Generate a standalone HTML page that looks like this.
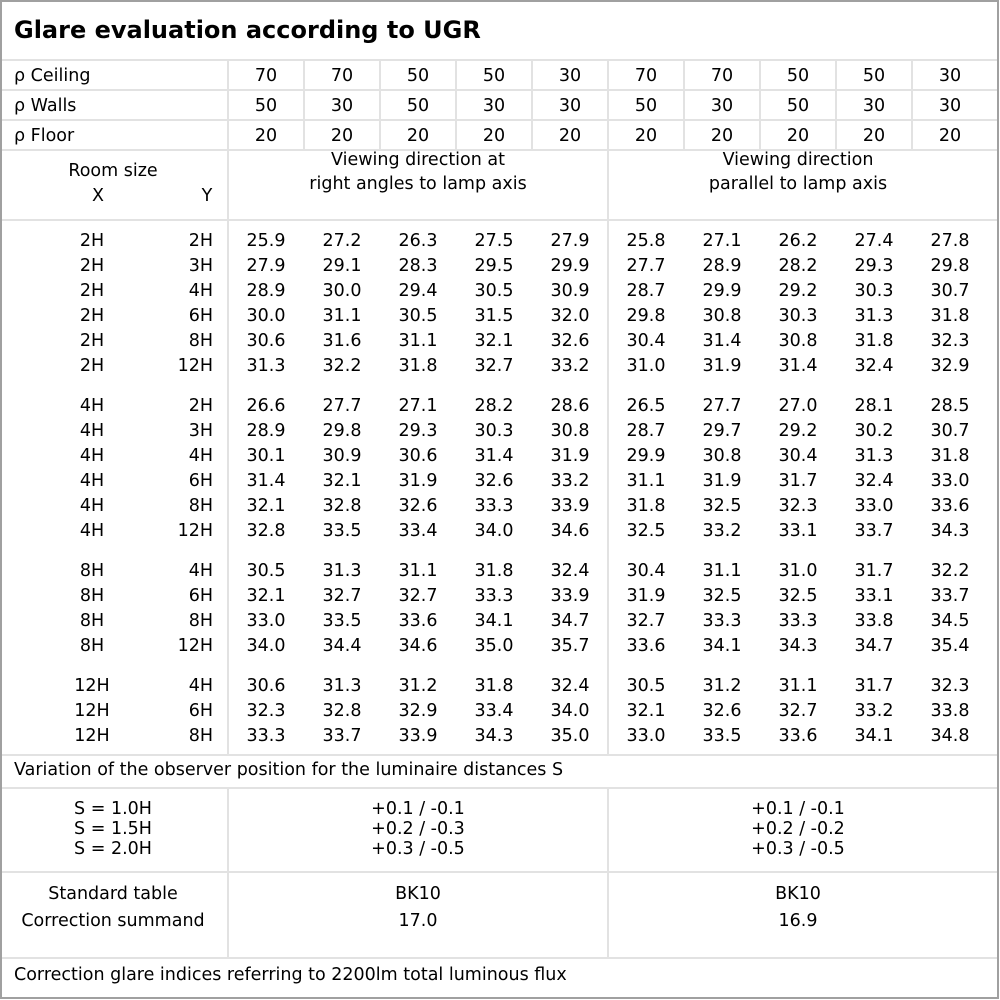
<!DOCTYPE html>
<html><head><meta charset="utf-8"><style>
html,body{margin:0;padding:0;background:#fff}
svg{display:block}
text{font-family:"DejaVu Sans","Liberation Sans",sans-serif;font-size:17.5px;fill:#000}
.c{text-anchor:middle}.e{text-anchor:end}
</style></head><body>
<svg width="1000" height="1000" viewBox="0 0 1000 1000">
<rect x="0" y="0" width="1000" height="1000" fill="#fff"/>
<g stroke="#e2e2e2" stroke-width="2" fill="none">
<line x1="1" y1="60" x2="998" y2="60"/>
<line x1="1" y1="90" x2="998" y2="90"/>
<line x1="1" y1="120" x2="998" y2="120"/>
<line x1="1" y1="150" x2="998" y2="150"/>
<line x1="1" y1="220" x2="998" y2="220"/>
<line x1="1" y1="755" x2="998" y2="755"/>
<line x1="1" y1="788" x2="998" y2="788"/>
<line x1="1" y1="872" x2="998" y2="872"/>
<line x1="1" y1="958" x2="998" y2="958"/>
<line x1="228" y1="60" x2="228" y2="755"/>
<line x1="228" y1="788" x2="228" y2="958"/>
<line x1="608" y1="150" x2="608" y2="755"/>
<line x1="608" y1="788" x2="608" y2="958"/>
<line x1="304" y1="60" x2="304" y2="150"/>
<line x1="380" y1="60" x2="380" y2="150"/>
<line x1="456" y1="60" x2="456" y2="150"/>
<line x1="532" y1="60" x2="532" y2="150"/>
<line x1="608" y1="60" x2="608" y2="150"/>
<line x1="684" y1="60" x2="684" y2="150"/>
<line x1="760" y1="60" x2="760" y2="150"/>
<line x1="836" y1="60" x2="836" y2="150"/>
<line x1="912" y1="60" x2="912" y2="150"/>
</g>
<rect x="1" y="1" width="997" height="997" fill="none" stroke="#a0a0a0" stroke-width="2"/>
<text x="14" y="38" style="font-size:24px;font-weight:bold">Glare evaluation according to UGR</text>
<text x="14" y="81">ρ Ceiling</text>
<text x="14" y="111">ρ Walls</text>
<text x="14" y="141">ρ Floor</text>
<g class="c">
<text class="c" x="266" y="81">70</text><text class="c" x="342" y="81">70</text><text class="c" x="418" y="81">50</text><text class="c" x="494" y="81">50</text><text class="c" x="570" y="81">30</text><text class="c" x="646" y="81">70</text><text class="c" x="722" y="81">70</text><text class="c" x="798" y="81">50</text><text class="c" x="874" y="81">50</text><text class="c" x="950" y="81">30</text>
<text class="c" x="266" y="111">50</text><text class="c" x="342" y="111">30</text><text class="c" x="418" y="111">50</text><text class="c" x="494" y="111">30</text><text class="c" x="570" y="111">30</text><text class="c" x="646" y="111">50</text><text class="c" x="722" y="111">30</text><text class="c" x="798" y="111">50</text><text class="c" x="874" y="111">30</text><text class="c" x="950" y="111">30</text>
<text class="c" x="266" y="141">20</text><text class="c" x="342" y="141">20</text><text class="c" x="418" y="141">20</text><text class="c" x="494" y="141">20</text><text class="c" x="570" y="141">20</text><text class="c" x="646" y="141">20</text><text class="c" x="722" y="141">20</text><text class="c" x="798" y="141">20</text><text class="c" x="874" y="141">20</text><text class="c" x="950" y="141">20</text>
</g>
<text class="c" x="113" y="176">Room size</text>
<text class="c" x="98" y="201">X</text>
<text class="c" x="207" y="201">Y</text>
<text class="c" x="418" y="165">Viewing direction at</text>
<text class="c" x="418" y="189">right angles to lamp axis</text>
<text class="c" x="798" y="165">Viewing direction</text>
<text class="c" x="798" y="189">parallel to lamp axis</text>

<g id="rows">
<!-- row helper: y baseline -->
<text class="c" x="92" y="246">2H</text><text class="e" x="213" y="246">2H</text>
<text class="c" x="266" y="246">25.9</text><text class="c" x="342" y="246">27.2</text><text class="c" x="418" y="246">26.3</text><text class="c" x="494" y="246">27.5</text><text class="c" x="570" y="246">27.9</text><text class="c" x="646" y="246">25.8</text><text class="c" x="722" y="246">27.1</text><text class="c" x="798" y="246">26.2</text><text class="c" x="874" y="246">27.4</text><text class="c" x="950" y="246">27.8</text>
<text class="c" x="92" y="271">2H</text><text class="e" x="213" y="271">3H</text>
<text class="c" x="266" y="271">27.9</text><text class="c" x="342" y="271">29.1</text><text class="c" x="418" y="271">28.3</text><text class="c" x="494" y="271">29.5</text><text class="c" x="570" y="271">29.9</text><text class="c" x="646" y="271">27.7</text><text class="c" x="722" y="271">28.9</text><text class="c" x="798" y="271">28.2</text><text class="c" x="874" y="271">29.3</text><text class="c" x="950" y="271">29.8</text>
<text class="c" x="92" y="296">2H</text><text class="e" x="213" y="296">4H</text>
<text class="c" x="266" y="296">28.9</text><text class="c" x="342" y="296">30.0</text><text class="c" x="418" y="296">29.4</text><text class="c" x="494" y="296">30.5</text><text class="c" x="570" y="296">30.9</text><text class="c" x="646" y="296">28.7</text><text class="c" x="722" y="296">29.9</text><text class="c" x="798" y="296">29.2</text><text class="c" x="874" y="296">30.3</text><text class="c" x="950" y="296">30.7</text>
<text class="c" x="92" y="321">2H</text><text class="e" x="213" y="321">6H</text>
<text class="c" x="266" y="321">30.0</text><text class="c" x="342" y="321">31.1</text><text class="c" x="418" y="321">30.5</text><text class="c" x="494" y="321">31.5</text><text class="c" x="570" y="321">32.0</text><text class="c" x="646" y="321">29.8</text><text class="c" x="722" y="321">30.8</text><text class="c" x="798" y="321">30.3</text><text class="c" x="874" y="321">31.3</text><text class="c" x="950" y="321">31.8</text>
<text class="c" x="92" y="346">2H</text><text class="e" x="213" y="346">8H</text>
<text class="c" x="266" y="346">30.6</text><text class="c" x="342" y="346">31.6</text><text class="c" x="418" y="346">31.1</text><text class="c" x="494" y="346">32.1</text><text class="c" x="570" y="346">32.6</text><text class="c" x="646" y="346">30.4</text><text class="c" x="722" y="346">31.4</text><text class="c" x="798" y="346">30.8</text><text class="c" x="874" y="346">31.8</text><text class="c" x="950" y="346">32.3</text>
<text class="c" x="92" y="371">2H</text><text class="e" x="213" y="371">12H</text>
<text class="c" x="266" y="371">31.3</text><text class="c" x="342" y="371">32.2</text><text class="c" x="418" y="371">31.8</text><text class="c" x="494" y="371">32.7</text><text class="c" x="570" y="371">33.2</text><text class="c" x="646" y="371">31.0</text><text class="c" x="722" y="371">31.9</text><text class="c" x="798" y="371">31.4</text><text class="c" x="874" y="371">32.4</text><text class="c" x="950" y="371">32.9</text>

<text class="c" x="92" y="411">4H</text><text class="e" x="213" y="411">2H</text>
<text class="c" x="266" y="411">26.6</text><text class="c" x="342" y="411">27.7</text><text class="c" x="418" y="411">27.1</text><text class="c" x="494" y="411">28.2</text><text class="c" x="570" y="411">28.6</text><text class="c" x="646" y="411">26.5</text><text class="c" x="722" y="411">27.7</text><text class="c" x="798" y="411">27.0</text><text class="c" x="874" y="411">28.1</text><text class="c" x="950" y="411">28.5</text>
<text class="c" x="92" y="436">4H</text><text class="e" x="213" y="436">3H</text>
<text class="c" x="266" y="436">28.9</text><text class="c" x="342" y="436">29.8</text><text class="c" x="418" y="436">29.3</text><text class="c" x="494" y="436">30.3</text><text class="c" x="570" y="436">30.8</text><text class="c" x="646" y="436">28.7</text><text class="c" x="722" y="436">29.7</text><text class="c" x="798" y="436">29.2</text><text class="c" x="874" y="436">30.2</text><text class="c" x="950" y="436">30.7</text>
<text class="c" x="92" y="461">4H</text><text class="e" x="213" y="461">4H</text>
<text class="c" x="266" y="461">30.1</text><text class="c" x="342" y="461">30.9</text><text class="c" x="418" y="461">30.6</text><text class="c" x="494" y="461">31.4</text><text class="c" x="570" y="461">31.9</text><text class="c" x="646" y="461">29.9</text><text class="c" x="722" y="461">30.8</text><text class="c" x="798" y="461">30.4</text><text class="c" x="874" y="461">31.3</text><text class="c" x="950" y="461">31.8</text>
<text class="c" x="92" y="486">4H</text><text class="e" x="213" y="486">6H</text>
<text class="c" x="266" y="486">31.4</text><text class="c" x="342" y="486">32.1</text><text class="c" x="418" y="486">31.9</text><text class="c" x="494" y="486">32.6</text><text class="c" x="570" y="486">33.2</text><text class="c" x="646" y="486">31.1</text><text class="c" x="722" y="486">31.9</text><text class="c" x="798" y="486">31.7</text><text class="c" x="874" y="486">32.4</text><text class="c" x="950" y="486">33.0</text>
<text class="c" x="92" y="511">4H</text><text class="e" x="213" y="511">8H</text>
<text class="c" x="266" y="511">32.1</text><text class="c" x="342" y="511">32.8</text><text class="c" x="418" y="511">32.6</text><text class="c" x="494" y="511">33.3</text><text class="c" x="570" y="511">33.9</text><text class="c" x="646" y="511">31.8</text><text class="c" x="722" y="511">32.5</text><text class="c" x="798" y="511">32.3</text><text class="c" x="874" y="511">33.0</text><text class="c" x="950" y="511">33.6</text>
<text class="c" x="92" y="536">4H</text><text class="e" x="213" y="536">12H</text>
<text class="c" x="266" y="536">32.8</text><text class="c" x="342" y="536">33.5</text><text class="c" x="418" y="536">33.4</text><text class="c" x="494" y="536">34.0</text><text class="c" x="570" y="536">34.6</text><text class="c" x="646" y="536">32.5</text><text class="c" x="722" y="536">33.2</text><text class="c" x="798" y="536">33.1</text><text class="c" x="874" y="536">33.7</text><text class="c" x="950" y="536">34.3</text>

<text class="c" x="92" y="576">8H</text><text class="e" x="213" y="576">4H</text>
<text class="c" x="266" y="576">30.5</text><text class="c" x="342" y="576">31.3</text><text class="c" x="418" y="576">31.1</text><text class="c" x="494" y="576">31.8</text><text class="c" x="570" y="576">32.4</text><text class="c" x="646" y="576">30.4</text><text class="c" x="722" y="576">31.1</text><text class="c" x="798" y="576">31.0</text><text class="c" x="874" y="576">31.7</text><text class="c" x="950" y="576">32.2</text>
<text class="c" x="92" y="601">8H</text><text class="e" x="213" y="601">6H</text>
<text class="c" x="266" y="601">32.1</text><text class="c" x="342" y="601">32.7</text><text class="c" x="418" y="601">32.7</text><text class="c" x="494" y="601">33.3</text><text class="c" x="570" y="601">33.9</text><text class="c" x="646" y="601">31.9</text><text class="c" x="722" y="601">32.5</text><text class="c" x="798" y="601">32.5</text><text class="c" x="874" y="601">33.1</text><text class="c" x="950" y="601">33.7</text>
<text class="c" x="92" y="626">8H</text><text class="e" x="213" y="626">8H</text>
<text class="c" x="266" y="626">33.0</text><text class="c" x="342" y="626">33.5</text><text class="c" x="418" y="626">33.6</text><text class="c" x="494" y="626">34.1</text><text class="c" x="570" y="626">34.7</text><text class="c" x="646" y="626">32.7</text><text class="c" x="722" y="626">33.3</text><text class="c" x="798" y="626">33.3</text><text class="c" x="874" y="626">33.8</text><text class="c" x="950" y="626">34.5</text>
<text class="c" x="92" y="651">8H</text><text class="e" x="213" y="651">12H</text>
<text class="c" x="266" y="651">34.0</text><text class="c" x="342" y="651">34.4</text><text class="c" x="418" y="651">34.6</text><text class="c" x="494" y="651">35.0</text><text class="c" x="570" y="651">35.7</text><text class="c" x="646" y="651">33.6</text><text class="c" x="722" y="651">34.1</text><text class="c" x="798" y="651">34.3</text><text class="c" x="874" y="651">34.7</text><text class="c" x="950" y="651">35.4</text>

<text class="c" x="92" y="691">12H</text><text class="e" x="213" y="691">4H</text>
<text class="c" x="266" y="691">30.6</text><text class="c" x="342" y="691">31.3</text><text class="c" x="418" y="691">31.2</text><text class="c" x="494" y="691">31.8</text><text class="c" x="570" y="691">32.4</text><text class="c" x="646" y="691">30.5</text><text class="c" x="722" y="691">31.2</text><text class="c" x="798" y="691">31.1</text><text class="c" x="874" y="691">31.7</text><text class="c" x="950" y="691">32.3</text>
<text class="c" x="92" y="716">12H</text><text class="e" x="213" y="716">6H</text>
<text class="c" x="266" y="716">32.3</text><text class="c" x="342" y="716">32.8</text><text class="c" x="418" y="716">32.9</text><text class="c" x="494" y="716">33.4</text><text class="c" x="570" y="716">34.0</text><text class="c" x="646" y="716">32.1</text><text class="c" x="722" y="716">32.6</text><text class="c" x="798" y="716">32.7</text><text class="c" x="874" y="716">33.2</text><text class="c" x="950" y="716">33.8</text>
<text class="c" x="92" y="741">12H</text><text class="e" x="213" y="741">8H</text>
<text class="c" x="266" y="741">33.3</text><text class="c" x="342" y="741">33.7</text><text class="c" x="418" y="741">33.9</text><text class="c" x="494" y="741">34.3</text><text class="c" x="570" y="741">35.0</text><text class="c" x="646" y="741">33.0</text><text class="c" x="722" y="741">33.5</text><text class="c" x="798" y="741">33.6</text><text class="c" x="874" y="741">34.1</text><text class="c" x="950" y="741">34.8</text>
</g>

<text x="14" y="775">Variation of the observer position for the luminaire distances S</text>
<text class="c" x="113" y="814">S = 1.0H</text>
<text class="c" x="113" y="834">S = 1.5H</text>
<text class="c" x="113" y="854">S = 2.0H</text>
<text class="c" x="418" y="814">+0.1 / -0.1</text>
<text class="c" x="418" y="834">+0.2 / -0.3</text>
<text class="c" x="418" y="854">+0.3 / -0.5</text>
<text class="c" x="798" y="814">+0.1 / -0.1</text>
<text class="c" x="798" y="834">+0.2 / -0.2</text>
<text class="c" x="798" y="854">+0.3 / -0.5</text>
<text class="c" x="113" y="899">Standard table</text>
<text class="c" x="113" y="926">Correction summand</text>
<text class="c" x="418" y="899">BK10</text>
<text class="c" x="418" y="926">17.0</text>
<text class="c" x="798" y="899">BK10</text>
<text class="c" x="798" y="926">16.9</text>
<text x="14" y="980">Correction glare indices referring to 2200lm total luminous flux</text>
</svg>
</body></html>
